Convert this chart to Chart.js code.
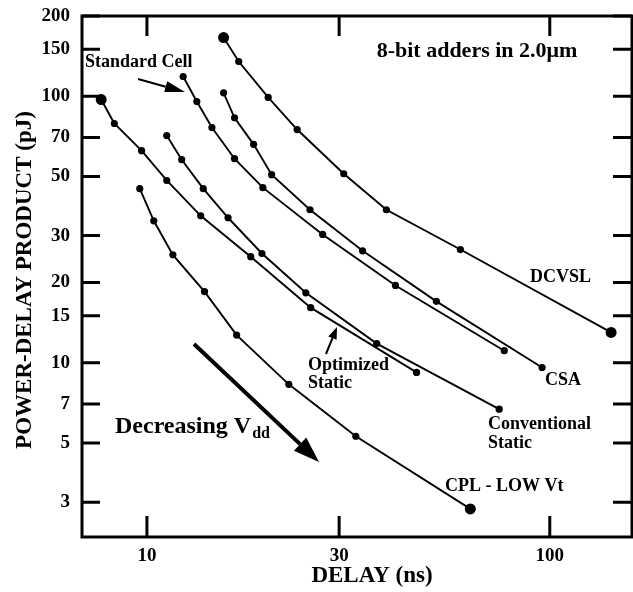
<!DOCTYPE html>
<html lang="en">
<head>
<meta charset="UTF-8">
<title>8-bit adders in 2.0um - power-delay product</title>
<script src="https://cdn.jsdelivr.net/npm/chart.js@4.4.1/dist/chart.umd.js"></script>
<style>
  html, body { margin: 0; padding: 0; background: #fff; }
  #wrap { width: 633px; height: 592px; }
</style>
</head>
<body>
<div id="wrap"><canvas id="chart" width="633" height="592"></canvas></div>
<script>
// tick labels
const xTicks = [10, 30, 100];
const yTicks = [3, 5, 7, 10, 15, 20, 30, 50, 70, 100, 150, 200];

// delay (ns) / power-delay product (pJ)
const dcvslDelay = [15.5, 16.9, 20.0, 23.6, 30.8, 39.3, 60.0, 142];
const dcvslPdp   = [166, 135, 99, 75, 51.2, 37.5, 26.6, 13.0];

const csaDelay = [15.5, 16.5, 18.4, 20.4, 25.4, 34.3, 52.3, 95.7];
const csaPdp   = [103, 83, 66, 50.8, 37.5, 26.3, 17.0, 9.6];

const stdCellDelay = [12.3, 13.3, 14.5, 16.5, 19.4, 27.3, 41.4, 77.1];
const stdCellPdp   = [118.6, 95.5, 76.3, 58.3, 45.4, 30.3, 19.5, 11.1];

const convStaticDelay = [11.2, 12.2, 13.8, 15.9, 19.3, 24.8, 37.2, 74.9];
const convStaticPdp   = [71.2, 57.8, 45.0, 35.0, 25.7, 18.3, 11.8, 6.7];

const optStaticDelay = [7.7, 8.3, 9.7, 11.2, 13.6, 18.1, 25.5, 46.7];
const optStaticPdp   = [97.2, 79.0, 62.5, 48.3, 35.6, 25.0, 16.1, 9.2];

const cplDelay = [9.6, 10.4, 11.6, 13.9, 16.7, 22.5, 33.0, 63.5];
const cplPdp   = [45.0, 34.1, 25.4, 18.5, 12.7, 8.3, 5.3, 2.83];

function pts(xs, ys) {
  return xs.map((x, i) => ({ x: x, y: ys[i] }));
}

// big dots on some curve ends
function radii(n, bigFirst, bigLast) {
  const r = new Array(n).fill(3.6);
  if (bigFirst) r[0] = 5.5;
  if (bigLast) r[n - 1] = 5.5;
  return r;
}

function series(label, xs, ys, bigFirst, bigLast) {
  return {
    label: label,
    data: pts(xs, ys),
    borderColor: '#000',
    backgroundColor: '#000',
    borderWidth: 1.9,
    pointRadius: radii(xs.length, bigFirst, bigLast),
    pointBackgroundColor: '#000',
    pointBorderWidth: 0,
    tension: 0,
    fill: false
  };
}

const serif = '"Liberation Serif", "Times New Roman", serif';

function arrow(ctx, x1, y1, x2, y2, lw, headLen, headW) {
  const a = Math.atan2(y2 - y1, x2 - x1);
  const bx = x2 - headLen * Math.cos(a);
  const by = y2 - headLen * Math.sin(a);
  ctx.lineWidth = lw;
  ctx.beginPath();
  ctx.moveTo(x1, y1);
  ctx.lineTo(bx, by);
  ctx.stroke();
  ctx.beginPath();
  ctx.moveTo(x2, y2);
  ctx.lineTo(bx + headW / 2 * Math.sin(a), by - headW / 2 * Math.cos(a));
  ctx.lineTo(bx - headW / 2 * Math.sin(a), by + headW / 2 * Math.cos(a));
  ctx.closePath();
  ctx.fill();
}

const decorations = {
  id: 'decorations',
  afterDraw(chart) {
    const ctx = chart.ctx;
    const area = chart.chartArea;
    const xs = chart.scales.x;
    const ys = chart.scales.y;
    ctx.save();
    ctx.strokeStyle = '#000';
    ctx.fillStyle = '#000';

    // frame
    ctx.lineWidth = 3;
    ctx.strokeRect(area.left, area.top, area.right - area.left, area.bottom - area.top);

    // inward ticks
    ctx.lineWidth = 3;
    yTicks.forEach(v => {
      const y = ys.getPixelForValue(v);
      ctx.beginPath();
      ctx.moveTo(area.left, y); ctx.lineTo(area.left + 18, y);
      ctx.moveTo(area.right - 19, y); ctx.lineTo(area.right, y);
      ctx.stroke();
    });
    xTicks.forEach(v => {
      const x = xs.getPixelForValue(v);
      ctx.beginPath();
      ctx.moveTo(x, area.bottom); ctx.lineTo(x, area.bottom - 21);
      ctx.moveTo(x, area.top); ctx.lineTo(x, area.top + 20);
      ctx.stroke();
    });

    // axis titles
    ctx.textAlign = 'center';
    ctx.textBaseline = 'middle';
    ctx.font = 'bold 23px ' + serif;
    ctx.fillText('DELAY (ns)', 372, 576);
    ctx.save();
    ctx.translate(25, 280);
    ctx.rotate(-Math.PI / 2);
    ctx.fillText('POWER-DELAY PRODUCT (pJ)', 0, 0);
    ctx.restore();

    // labels
    ctx.font = 'bold 22px ' + serif;
    ctx.fillText('8-bit adders in 2.0\u03bcm', 477, 51);

    ctx.textAlign = 'left';
    ctx.font = 'bold 18px ' + serif;
    ctx.fillText('Standard Cell', 85, 62);
    ctx.fillText('DCVSL', 530, 277);
    ctx.fillText('CSA', 545, 380);
    ctx.fillText('Conventional', 488, 424);
    ctx.fillText('Static', 488, 443);
    ctx.fillText('Optimized', 308, 365);
    ctx.fillText('Static', 308, 383);
    ctx.fillText('CPL - LOW Vt', 445, 486);

    ctx.font = 'bold 24px ' + serif;
    ctx.fillText('Decreasing V', 115, 427);
    const w = ctx.measureText('Decreasing V').width;
    ctx.font = 'bold 16px ' + serif;
    ctx.fillText('dd', 115 + w + 1, 434);

    // arrows
    arrow(ctx, 138, 79, 185, 92, 2, 20, 11);
    arrow(ctx, 326, 354, 337, 327, 2, 12, 9);
    arrow(ctx, 194, 344, 319, 462, 4, 26, 18);

    ctx.restore();
  }
};

const tickFont = { family: serif, size: 19, weight: 'bold' };

new Chart(document.getElementById('chart'), {
  type: 'line',
  data: {
    datasets: [
      series('DCVSL', dcvslDelay, dcvslPdp, true, true),
      series('CSA', csaDelay, csaPdp, false, false),
      series('Standard Cell', stdCellDelay, stdCellPdp, false, false),
      series('Conventional Static', convStaticDelay, convStaticPdp, false, false),
      series('Optimized Static', optStaticDelay, optStaticPdp, true, false),
      series('CPL - LOW Vt', cplDelay, cplPdp, false, true)
    ]
  },
  options: {
    responsive: false,
    animation: false,
    layout: { autoPadding: false, padding: { top: 16, right: 1, left: 0, bottom: 0 } },
    plugins: { legend: { display: false }, tooltip: { enabled: false } },
    scales: {
      x: {
        type: 'logarithmic',
        min: 6.9,
        max: 160,
        afterBuildTicks: s => { s.ticks = xTicks.map(v => ({ value: v })); },
        afterFit: s => { s.height = 55; s.paddingLeft = 0; s.paddingRight = 0; },
        grid: { display: false, drawTicks: false },
        border: { display: false },
        ticks: {
          color: '#000',
          font: tickFont,
          padding: 8,
          maxRotation: 0,
          autoSkip: false,
          callback: v => String(v)
        }
      },
      y: {
        type: 'logarithmic',
        min: 2.22,
        max: 200,
        afterBuildTicks: s => { s.ticks = yTicks.map(v => ({ value: v })); },
        afterFit: s => { s.width = 82; s.paddingTop = 0; s.paddingBottom = 0; },
        grid: { display: false, drawTicks: false },
        border: { display: false },
        ticks: {
          color: '#000',
          font: tickFont,
          padding: 12,
          autoSkip: false,
          callback: v => String(v)
        }
      }
    }
  },
  plugins: [decorations]
});
</script>
</body>
</html>
